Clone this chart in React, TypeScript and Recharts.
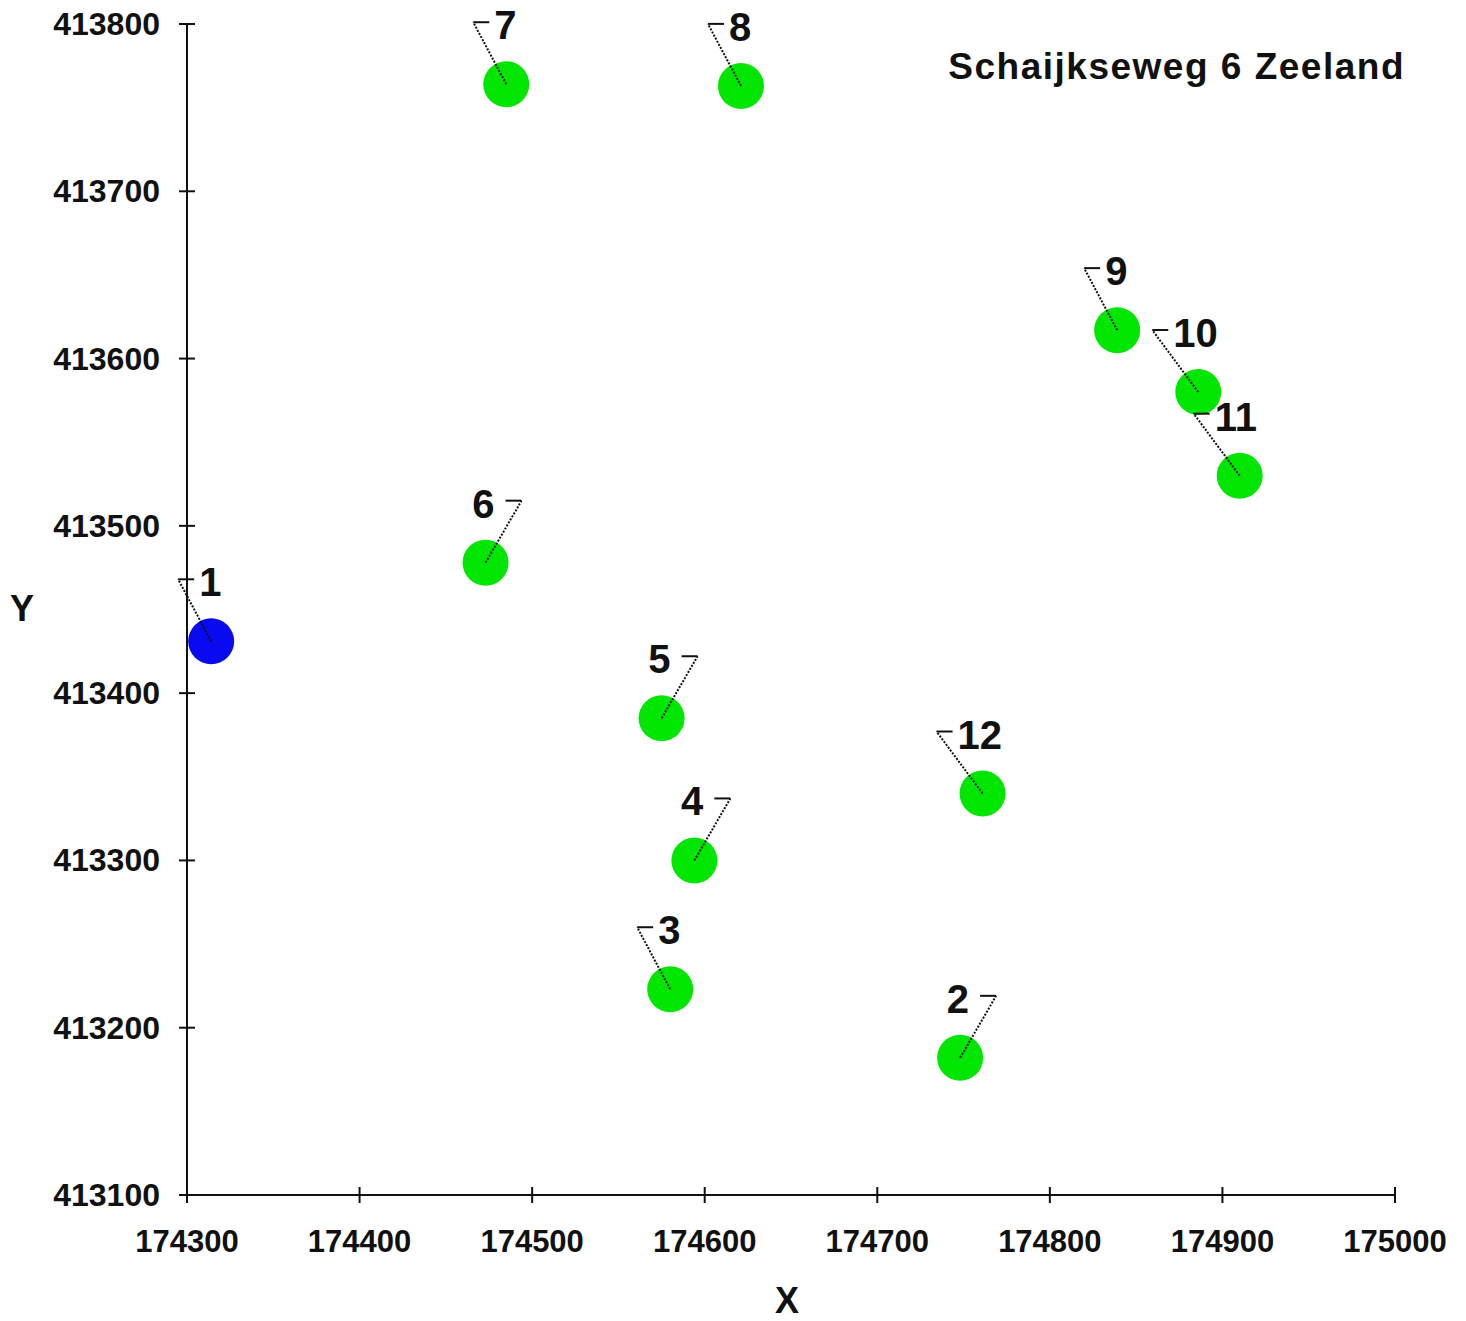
import { ScatterChart, Scatter, XAxis, YAxis, Label } from "recharts";

// receptor / source points
const pointIds = ["1", "2", "3", "4", "5", "6", "7", "8", "9", "10", "11", "12"];
const xValues = [174314, 174748, 174580, 174594, 174575, 174473, 174485, 174621, 174839, 174886, 174910, 174761];
const yValues = [413431, 413182, 413223, 413300, 413385, 413478, 413764, 413763, 413617, 413580, 413530, 413340];
const pointKinds = ["source", "receptor", "receptor", "receptor", "receptor", "receptor", "receptor", "receptor", "receptor", "receptor", "receptor", "receptor"];
// which way the leader line goes from the dot
const labelSides = ["ul", "ur", "ul", "ur", "ur", "ur", "ul", "ul", "ul", "ul", "ul", "ul"];

const xTicks = [174300, 174400, 174500, 174600, 174700, 174800, 174900, 175000];
const yTicks = [413100, 413200, 413300, 413400, 413500, 413600, 413700, 413800];

const chartTitle = "Schaijkseweg 6 Zeeland";

const points = pointIds.map((id, i) => ({
  id,
  x: xValues[i],
  y: yValues[i],
  kind: pointKinds[i],
  side: labelSides[i],
}));
const sourcePoints = points.filter((p) => p.kind === "source");
const receptorPoints = points.filter((p) => p.kind === "receptor");

const FONT = "'Liberation Sans', Arial, sans-serif";
const INK = "#111";

const YTick = (props: any) => {
  const { x, y, payload } = props;
  return (
    <g>
      <line x1={x - 8} y1={y} x2={x + 8} y2={y} stroke={INK} strokeWidth={2} />
      <text x={x - 27} y={y + 11} textAnchor="end" fontFamily={FONT} fontWeight="bold" fontSize={32} fill={INK}>
        {payload.value}
      </text>
    </g>
  );
};

const XTick = (props: any) => {
  const { x, y, payload } = props;
  return (
    <g>
      <line x1={x} y1={y - 8} x2={x} y2={y + 8} stroke={INK} strokeWidth={2} />
      <text x={x} y={y + 57} textAnchor="middle" fontFamily={FONT} fontWeight="bold" fontSize={31} fill={INK}>
        {payload.value}
      </text>
    </g>
  );
};

const Dot = (color: string) => (props: any) => {
  const { cx, cy } = props;
  return <circle cx={cx} cy={cy} r={23} fill={color} />;
};

const Leader = (props: any) => {
  const { cx, cy, payload } = props;
  const id: string = payload.id;
  const ky = cy - 62;
  if (payload.side === "ul") {
    const kx = cx - (id.length > 1 ? 46 : 33);
    return (
      <g>
        <line x1={cx} y1={cy} x2={kx} y2={ky} stroke={INK} strokeWidth={2} strokeDasharray="2 1.5" />
        <line x1={kx} y1={ky} x2={kx + 16} y2={ky} stroke={INK} strokeWidth={2} />
        <text x={kx + 21} y={ky + 17} fontFamily={FONT} fontWeight="bold" fontSize={40} fill={INK}>
          {id}
        </text>
      </g>
    );
  }
  const kx = cx + 36;
  return (
    <g>
      <line x1={cx} y1={cy} x2={kx} y2={ky} stroke={INK} strokeWidth={2} strokeDasharray="2 1.5" />
      <line x1={kx} y1={ky} x2={kx - 16} y2={ky} stroke={INK} strokeWidth={2} />
      <text x={kx - 27} y={ky + 17} textAnchor="end" fontFamily={FONT} fontWeight="bold" fontSize={40} fill={INK}>
        {id}
      </text>
    </g>
  );
};

const App = () => {
  return (
    <div style={{ position: "relative", width: 1466, height: 1321, marginTop: -8, marginLeft: -8 }}>
      <ScatterChart width={1466} height={1321} margin={{ top: 24, right: 71, left: 0, bottom: 16 }}>
        <XAxis
          type="number"
          dataKey="x"
          domain={[174300, 175000]}
          ticks={xTicks}
          height={110}
          tickSize={0}
          tickMargin={0}
          tickLine={false}
          axisLine={{ stroke: INK, strokeWidth: 2 }}
          tick={<XTick />}
          interval={0}
        >
          <Label
            content={(p: any) => {
              const vb = p.viewBox;
              return (
                <text x={vb.x + vb.width / 2 - 4} y={vb.y + 118} textAnchor="middle" fontFamily={FONT} fontWeight="bold" fontSize={36} fill={INK}>
                  X
                </text>
              );
            }}
          />
        </XAxis>
        <YAxis
          type="number"
          dataKey="y"
          domain={[413100, 413800]}
          ticks={yTicks}
          width={187}
          tickSize={0}
          tickMargin={0}
          tickLine={false}
          axisLine={{ stroke: INK, strokeWidth: 2 }}
          tick={<YTick />}
          interval={0}
        >
          <Label
            content={(p: any) => {
              const vb = p.viewBox;
              return (
                <text x={22} y={vb.y + vb.height / 2 + 11} textAnchor="middle" fontFamily={FONT} fontWeight="bold" fontSize={36} fill={INK}>
                  Y
                </text>
              );
            }}
          />
        </YAxis>
        <Scatter data={receptorPoints} shape={Dot("#00e600")} isAnimationActive={false} />
        <Scatter data={sourcePoints} shape={Dot("#0a0af0")} isAnimationActive={false} />
        <Scatter data={points} shape={Leader} isAnimationActive={false} />
      </ScatterChart>
      <div
        style={{
          position: "absolute",
          right: 61,
          top: 48,
          fontFamily: FONT,
          fontWeight: "bold",
          fontSize: 37,
          letterSpacing: 1.5,
          lineHeight: "37px",
          color: INK,
          whiteSpace: "nowrap",
        }}
      >
        {chartTitle}
      </div>
    </div>
  );
};

export default App;
